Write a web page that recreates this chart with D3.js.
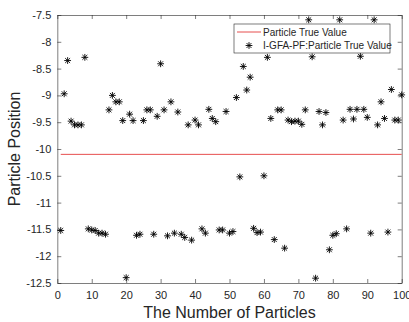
<!DOCTYPE html>
<html>
<head>
<meta charset="utf-8">
<script src="https://cdn.jsdelivr.net/npm/d3@7"></script>
<style>
  body { margin: 0; background: #fff; }
  text { font-family: "Liberation Sans", Arial, sans-serif; fill: #262626; }
</style>
</head>
<body>
<svg id="chart" width="409" height="322"></svg>
<script>
// values, particle index 1..100
const particleIdx = d3.range(1, 101);
const estimates = [
  -11.52, -8.97, -8.35, -9.48, -9.55, -9.55, -9.55, -8.29, -11.49, -11.51,
  -11.52, -11.57, -11.57, -11.59, -9.27, -9.0, -9.12, -9.12, -9.47, -12.4,
  -9.35, -9.47, -11.61, -11.59, -9.47, -9.27, -9.27, -11.59, -9.39, -8.41,
  -9.27, -11.62, -9.12, -11.57, -9.31, -11.59, -11.65, -9.55, -11.7, -9.46,
  -9.55, -11.49, -11.57, -9.26, -9.43, -9.49, -11.51, -11.51, -9.3, -11.57,
  -11.54, -9.04, -10.52, -8.46, -8.9, -8.66, -11.48, -11.56, -11.55, -10.5,
  -8.29, -9.43, -11.69, -9.27, -9.27, -11.85, -9.46, -9.49, -9.48, -9.48,
  -9.54, -9.27, -7.59, -8.28, -12.41, -9.3, -9.55, -9.32, -11.88, -11.61,
  -11.58, -7.59, -9.46, -11.49, -9.26, -9.44, -9.26, -8.27, -9.26, -9.41,
  -11.57, -7.59, -9.55, -9.12, -9.43, -11.55, -8.89, -9.46, -9.46, -8.99
];
const trueValue = -10.1;
const xTicks = [0, 10, 20, 30, 40, 50, 60, 70, 80, 90, 100];
const yTicks = [-12.5, -12, -11.5, -11, -10.5, -10, -9.5, -9, -8.5, -8, -7.5];
const legendLabels = ['Particle True Value', 'I-GFA-PF:Particle True Value'];

const svg = d3.select('#chart');
const margin = { top: 15, right: 7.3, bottom: 39, left: 57.3 };
const width = 409, height = 322;

const x = d3.scaleLinear().domain([0, 100]).range([margin.left, width - margin.right]);
const y = d3.scaleLinear().domain([-12.5, -7.5]).range([height - margin.bottom, margin.top]);

const axisColor = '#262626';

// axes (ticks pointing inward like matlab)
const gx = svg.append('g')
  .attr('transform', `translate(0,${height - margin.bottom})`)
  .call(d3.axisBottom(x).tickValues(xTicks).tickSizeInner(-4).tickSizeOuter(0).tickPadding(8));
const gxTop = svg.append('g')
  .attr('transform', `translate(0,${margin.top})`)
  .call(d3.axisTop(x).tickValues(xTicks).tickSizeInner(-4).tickSizeOuter(0).tickFormat(''));
const gy = svg.append('g')
  .attr('transform', `translate(${margin.left},0)`)
  .call(d3.axisLeft(y).tickValues(yTicks).tickSizeInner(-4).tickSizeOuter(0).tickPadding(6).tickFormat(d3.format('')));
const gyRight = svg.append('g')
  .attr('transform', `translate(${width - margin.right},0)`)
  .call(d3.axisRight(y).tickValues(yTicks).tickSizeInner(-4).tickSizeOuter(0).tickFormat(''));

[gx, gxTop, gy, gyRight].forEach(g => {
  g.selectAll('path, line').attr('stroke', axisColor).attr('stroke-width', 0.6);
  g.selectAll('text').style('font-size', '11px').attr('fill', axisColor)
    .style('font-family', '"Liberation Sans", Arial, sans-serif');
});
// text minus sign as plain hyphen
gy.selectAll('text').text(d => String(d).replace('\u2212', '-'));

// red true value line
svg.append('line')
  .attr('x1', x(1)).attr('x2', x(100))
  .attr('y1', y(trueValue)).attr('y2', y(trueValue))
  .attr('stroke', '#e33b3b').attr('stroke-width', 0.9);

// asterisk marker path
function star(cx, cy, r) {
  const d = r * 0.72;
  return `M${cx - r},${cy}L${cx + r},${cy}M${cx},${cy - r}L${cx},${cy + r}` +
    `M${cx - d},${cy - d}L${cx + d},${cy + d}M${cx - d},${cy + d}L${cx + d},${cy - d}`;
}

svg.append('g').selectAll('path')
  .data(particleIdx)
  .enter()
  .append('path')
  .attr('d', (d, i) => star(x(d), y(estimates[i]), 3.4))
  .attr('stroke', '#000')
  .attr('stroke-width', 0.9)
  .attr('fill', 'none');

// legend
const lg = svg.append('g');
lg.append('rect')
  .attr('x', 234).attr('y', 24).attr('width', 156).attr('height', 29)
  .attr('fill', '#fff').attr('stroke', axisColor).attr('stroke-width', 0.6);
lg.append('line')
  .attr('x1', 237).attr('x2', 261).attr('y1', 32).attr('y2', 32)
  .attr('stroke', '#e33b3b').attr('stroke-width', 0.9);
lg.append('path')
  .attr('d', star(249, 45.5, 3.4))
  .attr('stroke', '#000').attr('stroke-width', 0.9);
lg.selectAll('text.lbl')
  .data(legendLabels)
  .enter()
  .append('text')
  .attr('class', 'lbl')
  .attr('x', 263)
  .attr('y', (d, i) => 35.5 + i * 13.5)
  .style('font-size', '10px')
  .text(d => d);

// axis titles
svg.append('text')
  .attr('x', (margin.left + width - margin.right) / 2)
  .attr('y', 318)
  .attr('text-anchor', 'middle')
  .style('font-size', '16px')
  .text('The Number of Particles');
svg.append('text')
  .attr('transform', `translate(20,${(margin.top + height - margin.bottom) / 2}) rotate(-90)`)
  .attr('text-anchor', 'middle')
  .style('font-size', '16px')
  .text('Particle Position');
</script>
</body>
</html>
